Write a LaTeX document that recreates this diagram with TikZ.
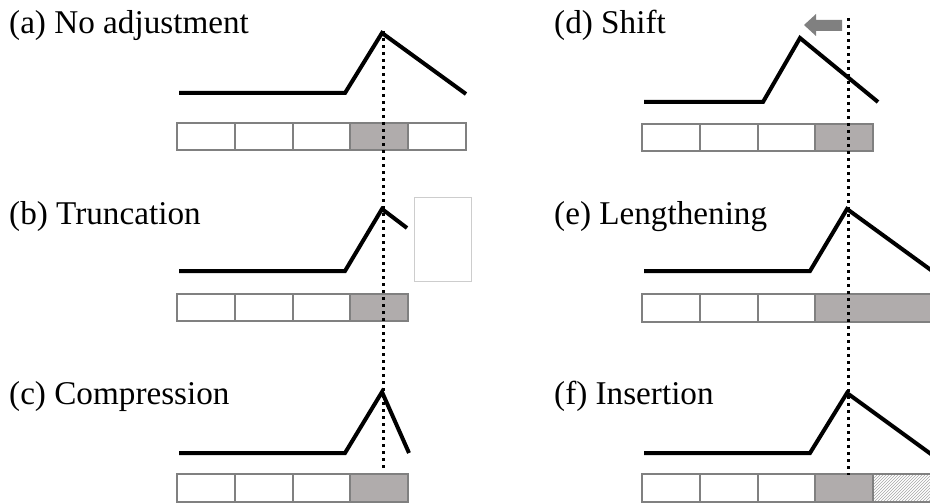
\documentclass[tikz,border=0pt]{standalone}
\usepackage{fontspec}
\setmainfont{Liberation Serif}
\usetikzlibrary{patterns}
\definecolor{cellline}{RGB}{128,128,128}
\definecolor{cellfill}{RGB}{176,172,172}
\definecolor{framegray}{RGB}{205,205,205}
\begin{document}
\begin{tikzpicture}[x=1pt,y=-1pt,
  signal/.style={line width=4pt,line join=miter},
  cell/.style={draw=cellline,line width=2pt,fill=white},
  hot/.style={draw=cellline,line width=2pt,fill=cellfill},
  hatched/.style={draw=cellline,line width=2pt,pattern=north east lines,pattern color=gray!70},
  marker/.style={line width=3pt,dash pattern=on 3pt off 4pt},
  lbl/.style={anchor=base west,inner sep=0pt,font=\fontsize{33.2}{38}\selectfont}]
\useasboundingbox (0,0) rectangle (930,503);
% labels
\node[lbl] (la) at (9,34) {(a) No adjustment};
\node[lbl] (lb) at (9,224) {(b) Truncation};
\node[lbl] (lc) at (9,404) {(c) Compression};
\node[lbl] (ld) at (554,34) {(d) Shift};
\node[lbl] (le) at (554,224) {(e) Lengthening};
\node[lbl] (lf) at (554,404) {(f) Insertion};
% (a)
\draw[signal] (179,93) -- (345,93) -- (382,33) -- (466,94);
\foreach \i in {0,1,2,4} \draw[cell] ({177+57.8*\i},123) rectangle +(57.8,27);
\draw[hot] ({177+57.8*3},123) rectangle +(57.8,27);
% (b)
\draw[signal] (179,271) -- (345,271) -- (382,209) -- (407,228);
\draw[framegray,line width=1pt] (414,197) rectangle (471,281);
\foreach \i in {0,1,2} \draw[cell] ({177+57.8*\i},294) rectangle +(57.8,27);
\draw[hot] ({177+57.8*3},294) rectangle +(57.8,27);
% (c)
\draw[signal] (179,453) -- (345,453) -- (382,392) -- (409,453);
\foreach \i in {0,1,2} \draw[cell] ({177+57.8*\i},474) rectangle +(57.8,28);
\draw[hot] ({177+57.8*3},474) rectangle +(57.8,28);
% (d)
\draw[signal] (644,102) -- (763,102) -- (800,38) -- (878,102);
\foreach \i in {0,1,2} \draw[cell] ({642+57.75*\i},124) rectangle +(57.75,27);
\draw[hot] ({642+57.75*3},124) rectangle +(57.75,27);
\fill[cellline] (842,20) -- (816,20) -- (816,14) -- (804,25) -- (816,36) -- (816,31) -- (842,31) -- cycle;
% (e)
\draw[signal] (644,271) -- (810,271) -- (847,209) -- (935,273);
\foreach \i in {0,1,2} \draw[cell] ({642+57.75*\i},294) rectangle +(57.75,28);
\draw[hot] ({642+57.75*3},294) rectangle (990,322);
% (f)
\draw[signal] (644,453) -- (810,453) -- (847,393) -- (935,457);
\foreach \i in {0,1,2} \draw[cell] ({642+57.75*\i},474) rectangle +(57.75,28);
\draw[hot] ({642+57.75*3},474) rectangle +(57.75,28);
\draw[hatched] ({642+57.75*4},474) rectangle +(59,28);
% reference markers
\coordinate (lt) at (383,31);
\coordinate (lbt) at (383,469);
\coordinate (rt) at (848,18);
\coordinate (rbt) at (848,475);
\draw[marker] (lt) -- (lbt);
\draw[marker] (rt) -- (rbt);
\end{tikzpicture}
\end{document}
